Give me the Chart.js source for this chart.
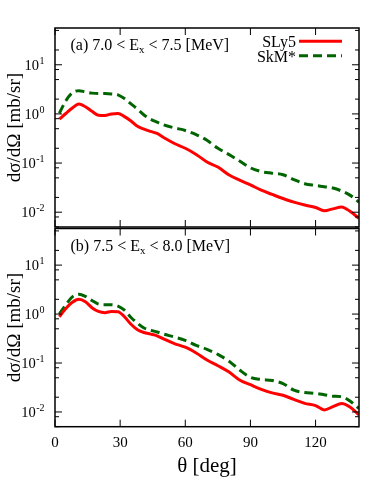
<!DOCTYPE html>
<html>
<head>
<meta charset="utf-8">
<script src="https://cdn.jsdelivr.net/npm/chart.js@4/dist/chart.umd.min.js"></script>
<style>
	html, body { margin: 0; padding: 0; background: #fff; }
	#wrap { position: relative; width: 369px; height: 482px; }
	#cA { position: absolute; left: 0; top: 0; }
	#cB { position: absolute; left: 0; top: 227px; }
</style>
</head>
<body>
<div id="wrap">
	<canvas id="cA" width="369" height="229"></canvas>
	<canvas id="cB" width="369" height="255"></canvas>
</div>
<script>
// scattering angle grid [deg]
const theta = [2, 5, 8, 11, 14, 17, 20, 23, 26, 29, 32, 35, 38, 41, 44, 47, 50, 55, 60, 65, 70, 75, 80, 85, 90, 95, 100, 105, 110, 115, 120, 124, 128, 132, 136, 140];

// (a) 7.0 < Ex < 7.5 MeV
const slyA = [0.78, 1.02, 1.32, 1.6, 1.4, 1.13, 0.94, 0.93, 1.0, 1.02, 0.88, 0.72, 0.56, 0.49, 0.44, 0.40, 0.33, 0.25, 0.20, 0.15, 0.105, 0.083, 0.058, 0.045, 0.036, 0.028, 0.023, 0.019, 0.016, 0.014, 0.0125, 0.0107, 0.0117, 0.0128, 0.0103, 0.0075];
const skmA = [1.03, 1.85, 2.7, 2.97, 2.8, 2.65, 2.6, 2.6, 2.55, 2.45, 2.05, 1.6, 1.25, 0.95, 0.78, 0.68, 0.60, 0.52, 0.46, 0.38, 0.29, 0.20, 0.15, 0.11, 0.08, 0.067, 0.062, 0.058, 0.046, 0.038, 0.035, 0.033, 0.031, 0.027, 0.022, 0.016];

// (b) 7.5 < Ex < 8.0 MeV
const slyB = [0.88, 1.3, 1.75, 2.0, 1.78, 1.35, 1.13, 1.07, 1.13, 1.12, 0.88, 0.62, 0.48, 0.42, 0.39, 0.36, 0.31, 0.25, 0.21, 0.16, 0.115, 0.088, 0.066, 0.045, 0.036, 0.029, 0.0245, 0.022, 0.018, 0.015, 0.0135, 0.011, 0.0128, 0.0149, 0.0125, 0.0087];
const skmB = [1.0, 1.55, 2.25, 2.55, 2.3, 1.9, 1.6, 1.55, 1.55, 1.45, 1.2, 0.85, 0.65, 0.52, 0.47, 0.43, 0.39, 0.34, 0.29, 0.23, 0.19, 0.15, 0.11, 0.072, 0.051, 0.046, 0.044, 0.038, 0.028, 0.025, 0.024, 0.0225, 0.021, 0.0205, 0.0165, 0.0117];

const seriesNames = ['SLy5', 'SkM*'];
const xTicks = [0, 30, 60, 90, 120];
const yDecades = [-2, -1, 0, 1];
const yMinor = [2, 5, 8];

(function () {
	const serif = "'Liberation Serif', 'Times New Roman', serif";
	const cRed = '#ff0000';
	const cGreen = '#006400';

	const line = (ctx, x1, y1, x2, y2) => {
		ctx.beginPath(); ctx.moveTo(x1, y1); ctx.lineTo(x2, y2); ctx.stroke();
	};

	// frame, inward ticks, labels, legend (gnuplot look)
	const panelDeco = {
		id: 'panelDeco',
		afterDraw(chart, args, opts) {
			const { ctx, chartArea: a, scales: { x, y } } = chart;
			ctx.save();
			ctx.strokeStyle = '#000';
			ctx.fillStyle = '#000';

			ctx.lineWidth = 1;
			xTicks.forEach(v => {
				const px = x.getPixelForValue(v);
				line(ctx, px, a.bottom, px, a.bottom - 7);
				line(ctx, px, a.top, px, a.top + 7);
			});
			yDecades.forEach(d => {
				const py = y.getPixelForValue(Math.pow(10, d));
				line(ctx, a.left, py, a.left + 7, py);
				line(ctx, a.right, py, a.right - 7, py);
			});
			[-3, -2, -1, 0, 1].forEach(e => {
				yMinor.forEach(m => {
					const v = m * Math.pow(10, e);
					if (v < y.min || v > y.max) {return;}
					const pm = y.getPixelForValue(v);
					line(ctx, a.left, pm, a.left + 4, pm);
					line(ctx, a.right, pm, a.right - 4, pm);
				});
			});

			ctx.lineWidth = 1.5;
			ctx.strokeRect(a.left, a.top, a.right - a.left, a.bottom - a.top);

			// y tick labels 10^n
			ctx.textBaseline = 'alphabetic';
			yDecades.forEach(d => {
				const py = y.getPixelForValue(Math.pow(10, d));
				const ex = String(d);
				ctx.font = '10px ' + serif;
				const ew = ctx.measureText(ex).width;
				const x0 = 44.5 - ew;
				ctx.textAlign = 'left';
				ctx.fillText(ex, x0, py - 1);
				ctx.font = '14.5px ' + serif;
				ctx.textAlign = 'right';
				ctx.fillText('10', x0 - 0.5, py + 5);
			});

			// y axis title
			ctx.save();
			ctx.translate(15, (a.top + a.bottom) / 2);
			ctx.rotate(-Math.PI / 2);
			ctx.font = '19px ' + serif;
			ctx.textAlign = 'center';
			ctx.textBaseline = 'middle';
			ctx.fillText('dσ/dΩ [mb/sr]', 0, 0);
			ctx.restore();

			// panel label with subscript
			const [pre, sub, post] = opts.label;
			let tx = 70.5;
			const by = a.top + 22;
			ctx.textAlign = 'left';
			ctx.font = '16px ' + serif;
			ctx.fillText(pre, tx, by);
			tx += ctx.measureText(pre).width;
			ctx.font = '11px ' + serif;
			ctx.fillText(sub, tx, by + 3);
			tx += ctx.measureText(sub).width;
			ctx.font = '16px ' + serif;
			ctx.fillText(post, tx, by);

			if (opts.legend) {
				ctx.font = '16px ' + serif;
				ctx.textAlign = 'right';
				ctx.fillText(seriesNames[0], 296, 47);
				ctx.fillText(seriesNames[1], 296, 61.5);
				ctx.lineWidth = 3;
				ctx.strokeStyle = cRed;
				line(ctx, 299, 41.3, 342, 41.3);
				ctx.strokeStyle = cGreen;
				ctx.setLineDash([9, 5]);
				line(ctx, 299, 55.7, 342, 55.7);
				ctx.setLineDash([]);
			}

			if (opts.xAxis) {
				ctx.font = '15px ' + serif;
				ctx.textAlign = 'center';
				ctx.textBaseline = 'middle';
				xTicks.forEach(v => ctx.fillText(String(v), x.getPixelForValue(v), a.bottom + 16.5));
				ctx.font = '21px ' + serif;
				ctx.fillText('θ [deg]', (a.left + a.right) / 2, a.bottom + 40);
			}
			ctx.restore();
		}
	};

	const makePanel = (id, sly, skm, pad, deco) => new Chart(document.getElementById(id), {
		type: 'line',
		data: {
			datasets: [
				{ label: seriesNames[0], data: theta.map((t, i) => ({ x: t, y: sly[i] })), borderColor: cRed, borderWidth: 3, pointRadius: 0, cubicInterpolationMode: 'monotone', fill: false },
				{ label: seriesNames[1], data: theta.map((t, i) => ({ x: t, y: skm[i] })), borderColor: cGreen, borderWidth: 3, borderDash: [9, 5], pointRadius: 0, cubicInterpolationMode: 'monotone', fill: false }
			]
		},
		options: {
			responsive: false, animation: false,
			layout: { padding: pad },
			plugins: { legend: { display: false }, tooltip: { enabled: false }, panelDeco: deco },
			scales: {
				x: { type: 'linear', min: 0, max: 140, display: false },
				y: { type: 'logarithmic', min: 0.005, max: 56, display: false }
			}
		},
		plugins: [panelDeco]
	});

	makePanel('cA', slyA, skmA, { left: 55, right: 10, top: 28, bottom: 2 },
		{ label: ['(a) 7.0 < E', 'x', ' < 7.5 [MeV]'], legend: true, xAxis: false });
	makePanel('cB', slyB, skmB, { left: 55, right: 10, top: 1.5, bottom: 55.3 },
		{ label: ['(b) 7.5 < E', 'x', ' < 8.0 [MeV]'], legend: false, xAxis: true });
})();
</script>
</body>
</html>
